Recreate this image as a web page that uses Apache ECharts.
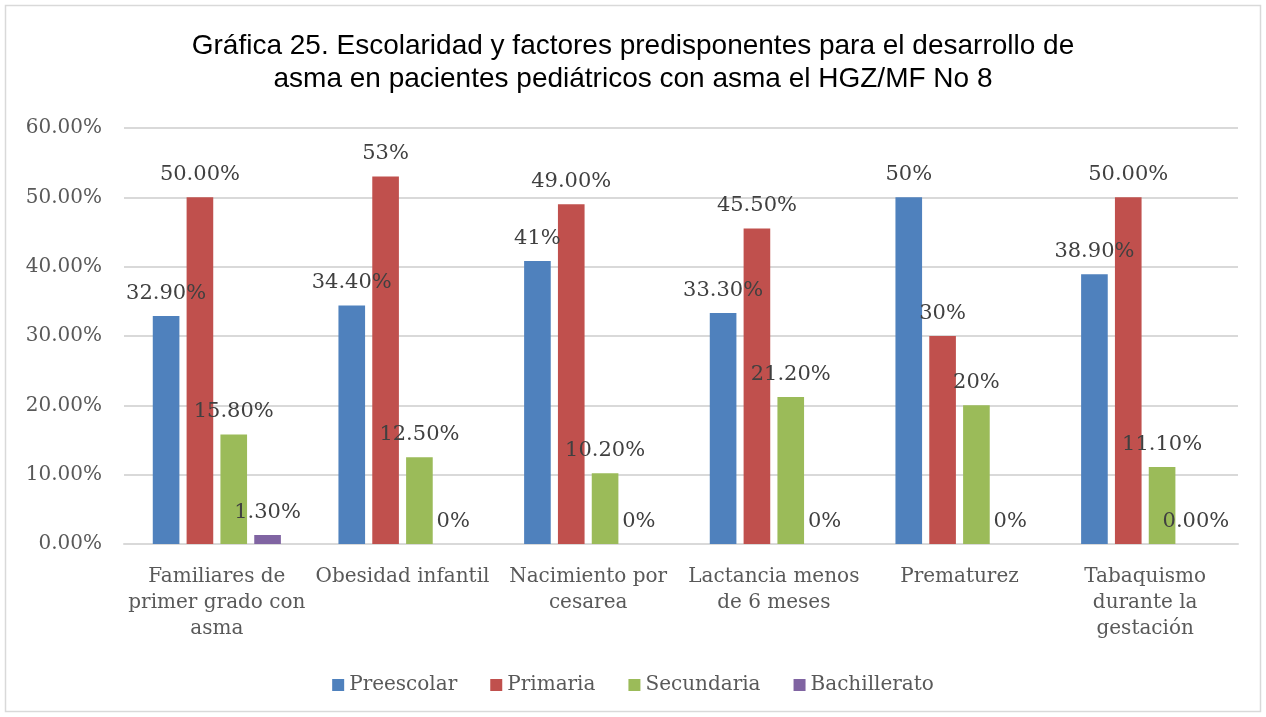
<!DOCTYPE html>
<html>
<head>
<meta charset="utf-8">
<script src="https://cdn.jsdelivr.net/npm/echarts@6/dist/echarts.min.js"></script>
<style>
  html, body { margin: 0; padding: 0; background: #fff; }
  #chart { width: 1266px; height: 717px; }
</style>
</head>
<body>
<div id="chart"></div>
<script>
// categorias (eje x)
var categorias = [
  "Familiares de\nprimer grado con\nasma",
  "Obesidad infantil",
  "Nacimiento por\ncesarea",
  "Lactancia menos\nde 6 meses",
  "Prematurez",
  "Tabaquismo\ndurante la\ngestación"
];
var series = ["Preescolar", "Primaria", "Secundaria", "Bachillerato"];

// valores (%)
var preescolar   = [32.9, 34.4, 40.8, 33.3, 50, 38.9];
var primaria     = [50, 53, 49, 45.5, 30, 50];
var secundaria   = [15.8, 12.5, 10.2, 21.2, 20, 11.1];
var bachillerato = [1.3, 0, 0, 0, 0, 0];

// etiquetas tal como aparecen
var etqPreescolar   = ["32.90%", "34.40%", "41%", "33.30%", "50%", "38.90%"];
var etqPrimaria     = ["50.00%", "53%", "49.00%", "45.50%", "30%", "50.00%"];
var etqSecundaria   = ["15.80%", "12.50%", "10.20%", "21.20%", "20%", "11.10%"];
var etqBachillerato = ["1.30%", "0%", "0%", "0%", "0%", "0.00%"];

var colores = ["#4f81bd", "#c0504d", "#9bbb59", "#8064a2"];
var serif = "'DejaVu Serif', serif";

function serie(nombre, datos, etiquetas, color) {
  return {
    name: nombre,
    type: "bar",
    data: datos,
    barGap: "27%",
    barCategoryGap: "31%",
    itemStyle: { color: color },
    label: {
      show: true,
      position: "top",
      distance: 12,
      fontFamily: serif,
      fontSize: 21,
      color: "#404040",
      formatter: function (p) { return etiquetas[p.dataIndex]; }
    }
  };
}

var chart = echarts.init(document.getElementById("chart"));
chart.setOption({
  backgroundColor: "#fff",
  animation: false,
  graphic: [{
    type: "rect",
    shape: { x: 5.5, y: 5.5, width: 1255, height: 706 },
    style: { fill: null, stroke: "#d9d9d9", lineWidth: 1.5 },
    silent: true
  }],
  title: {
    text: "Gráfica 25. Escolaridad y factores predisponentes para el desarrollo de\nasma en pacientes pediátricos con asma el HGZ/MF No 8",
    left: "center",
    top: 25,
    textStyle: {
      fontFamily: "'Liberation Sans', Arial, sans-serif",
      fontWeight: "normal",
      fontSize: 28,
      lineHeight: 33,
      color: "#000",
      align: "center"
    }
  },
  legend: {
    data: series,
    bottom: 17,
    left: "center",
    itemWidth: 12,
    itemHeight: 12,
    itemGap: 33,
    icon: "rect",
    textStyle: { fontFamily: serif, fontSize: 20, color: "#595959" }
  },
  grid: { left: 124, right: 28, top: 128, bottom: 173 },
  xAxis: {
    type: "category",
    data: categorias,
    axisTick: { show: false },
    axisLine: { lineStyle: { color: "#d9d9d9", width: 2 } },
    axisLabel: {
      interval: 0,
      margin: 20,
      fontFamily: serif,
      fontSize: 20,
      lineHeight: 26,
      color: "#595959"
    }
  },
  yAxis: {
    type: "value",
    min: 0,
    max: 60,
    interval: 10,
    axisLine: { show: false },
    axisTick: { show: false },
    splitLine: { lineStyle: { color: "#d9d9d9", width: 2 } },
    axisLabel: {
      margin: 22,
      fontFamily: serif,
      fontSize: 20,
      color: "#595959",
      formatter: function (v) { return v.toFixed(2) + "%"; }
    }
  },
  series: [
    serie(series[0], preescolar, etqPreescolar, colores[0]),
    serie(series[1], primaria, etqPrimaria, colores[1]),
    serie(series[2], secundaria, etqSecundaria, colores[2]),
    serie(series[3], bachillerato, etqBachillerato, colores[3])
  ]
});
</script>
</body>
</html>
